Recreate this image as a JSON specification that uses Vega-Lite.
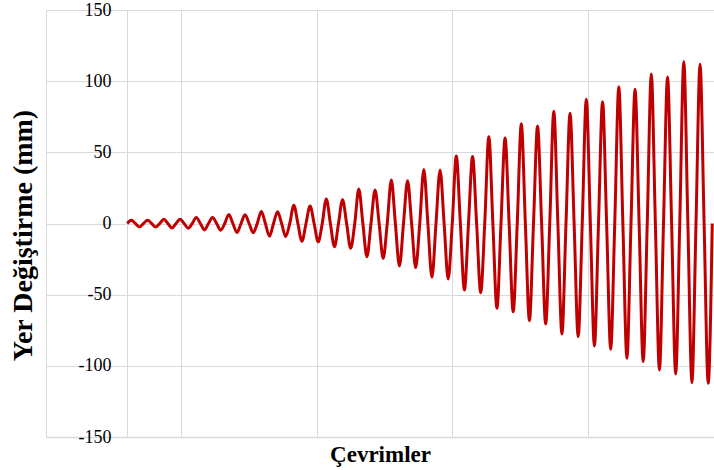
{
  "$schema": "https://vega.github.io/schema/vega-lite/v6.json",
  "width": 668,
  "height": 427,
  "autosize": "none",
  "padding": {"left": 46, "top": 10, "right": 0, "bottom": 33},
  "background": "white",
  "config": {"view": {"stroke": null}},
  "data": {"values": [
    {"t":0,"d":0},{"t":0.25,"d":2.2},{"t":0.5,"d":0},{"t":0.75,"d":-2.4},
    {"t":1,"d":0},{"t":1.25,"d":2.2},{"t":1.5,"d":0},{"t":1.75,"d":-2.5},
    {"t":2,"d":0},{"t":2.25,"d":3.0},{"t":2.5,"d":0},{"t":2.75,"d":-3.2},
    {"t":3,"d":0},{"t":3.25,"d":2.9},{"t":3.5,"d":0},{"t":3.75,"d":-3.3},
    {"t":4,"d":0},{"t":4.25,"d":4.3},{"t":4.5,"d":0},{"t":4.75,"d":-4.5},
    {"t":5,"d":0},{"t":5.25,"d":4.2},{"t":5.5,"d":0},{"t":5.75,"d":-4.7},
    {"t":6,"d":0},{"t":6.25,"d":6.4},{"t":6.5,"d":0},{"t":6.75,"d":-6.3},
    {"t":7,"d":0},{"t":7.25,"d":6.2},{"t":7.5,"d":0},{"t":7.75,"d":-6.5},
    {"t":8,"d":0},{"t":8.25,"d":8.5},{"t":8.5,"d":0},{"t":8.75,"d":-8.9},
    {"t":9,"d":0},{"t":9.25,"d":8.3},{"t":9.5,"d":0},{"t":9.75,"d":-9.2},
    {"t":10,"d":0},{"t":10.25,"d":12.8},{"t":10.5,"d":0},{"t":10.75,"d":-12.5},
    {"t":11,"d":0},{"t":11.25,"d":12.3},{"t":11.5,"d":0},{"t":11.75,"d":-12.9},
    {"t":12,"d":0},{"t":12.25,"d":17.2},{"t":12.5,"d":0},{"t":12.75,"d":-16.3},
    {"t":13,"d":0},{"t":13.25,"d":16.7},{"t":13.5,"d":0},{"t":13.75,"d":-17.4},
    {"t":14,"d":0},{"t":14.25,"d":24.2},{"t":14.5,"d":0},{"t":14.75,"d":-23.3},
    {"t":15,"d":0},{"t":15.25,"d":23.5},{"t":15.5,"d":0},{"t":15.75,"d":-24.5},
    {"t":16,"d":0},{"t":16.25,"d":30.5},{"t":16.5,"d":0},{"t":16.75,"d":-29.9},
    {"t":17,"d":0},{"t":17.25,"d":30.0},{"t":17.5,"d":0},{"t":17.75,"d":-31.0},
    {"t":18,"d":0},{"t":18.25,"d":38.0},{"t":18.5,"d":0},{"t":18.75,"d":-37.8},
    {"t":19,"d":0},{"t":19.25,"d":37.6},{"t":19.5,"d":0},{"t":19.75,"d":-39.0},
    {"t":20,"d":0},{"t":20.25,"d":47.4},{"t":20.5,"d":0},{"t":20.75,"d":-46.7},
    {"t":21,"d":0},{"t":21.25,"d":47.0},{"t":21.5,"d":0},{"t":21.75,"d":-48.6},
    {"t":22,"d":0},{"t":22.25,"d":61.0},{"t":22.5,"d":0},{"t":22.75,"d":-59.6},
    {"t":23,"d":0},{"t":23.25,"d":60.0},{"t":23.5,"d":0},{"t":23.75,"d":-62.0},
    {"t":24,"d":0},{"t":24.25,"d":70.0},{"t":24.5,"d":0},{"t":24.75,"d":-68.3},
    {"t":25,"d":0},{"t":25.25,"d":68.5},{"t":25.5,"d":0},{"t":25.75,"d":-70.6},
    {"t":26,"d":0},{"t":26.25,"d":78.8},{"t":26.5,"d":0},{"t":26.75,"d":-77.6},
    {"t":27,"d":0},{"t":27.25,"d":77.4},{"t":27.5,"d":0},{"t":27.75,"d":-79.5},
    {"t":28,"d":0},{"t":28.25,"d":87.3},{"t":28.5,"d":0},{"t":28.75,"d":-86.0},
    {"t":29,"d":0},{"t":29.25,"d":85.6},{"t":29.5,"d":0},{"t":29.75,"d":-88.4},
    {"t":30,"d":0},{"t":30.25,"d":96.1},{"t":30.5,"d":0},{"t":30.75,"d":-94.7},
    {"t":31,"d":0},{"t":31.25,"d":94.3},{"t":31.5,"d":0},{"t":31.75,"d":-97.0},
    {"t":32,"d":0},{"t":32.25,"d":105.0},{"t":32.5,"d":0},{"t":32.75,"d":-103.0},
    {"t":33,"d":0},{"t":33.25,"d":103.0},{"t":33.5,"d":0},{"t":33.75,"d":-105.7},
    {"t":34,"d":0},{"t":34.25,"d":113.7},{"t":34.5,"d":0},{"t":34.75,"d":-111.8},
    {"t":35,"d":0},{"t":35.25,"d":111.8},{"t":35.5,"d":0},{"t":35.75,"d":-112.3},
    {"t":36,"d":0}
  ]},
  "mark": {"type": "line", "color": "#C00000", "strokeWidth": 3, "interpolate": "monotone", "clip": true},
  "encoding": {
    "x": {
      "field": "t", "type": "quantitative",
      "scale": {"domain": [-5, 36.108], "nice": false, "zero": false},
      "axis": {
        "values": [-5, 3.3333, 11.6667, 20, 28.3333],
        "labels": false, "ticks": false,
        "grid": true, "gridColor": "#d9d9d9", "gridWidth": 1,
        "domain": true, "domainColor": "#d9d9d9", "domainWidth": 1.5,
        "title": "Çevrimler",
        "titleFont": "Liberation Serif", "titleFontSize": 23, "titleFontWeight": "bold",
        "titleColor": "#000000", "titlePadding": 6
      }
    },
    "y": {
      "field": "d", "type": "quantitative",
      "scale": {"domain": [-150, 150], "nice": false},
      "axis": {
        "values": [-150, -100, -50, 0, 50, 100, 150],
        "labelExpr": "toString(datum.value)",
        "offset": -81,
        "ticks": false,
        "labelFont": "Liberation Serif", "labelFontSize": 18, "labelColor": "#000000",
        "labelPadding": 16,
        "grid": true, "gridColor": "#d9d9d9", "gridWidth": 1,
        "domain": true, "domainColor": "#d9d9d9", "domainWidth": 1,
        "title": "Yer Değiştirme (mm)",
        "titleFont": "Liberation Serif", "titleFontSize": 28, "titleFontWeight": "bold",
        "titleColor": "#000000",
        "titleX": -104, "titleY": 225, "titleBaseline": "middle", "titleAngle": -90, "titleAlign": "center"
      }
    }
  }
}
